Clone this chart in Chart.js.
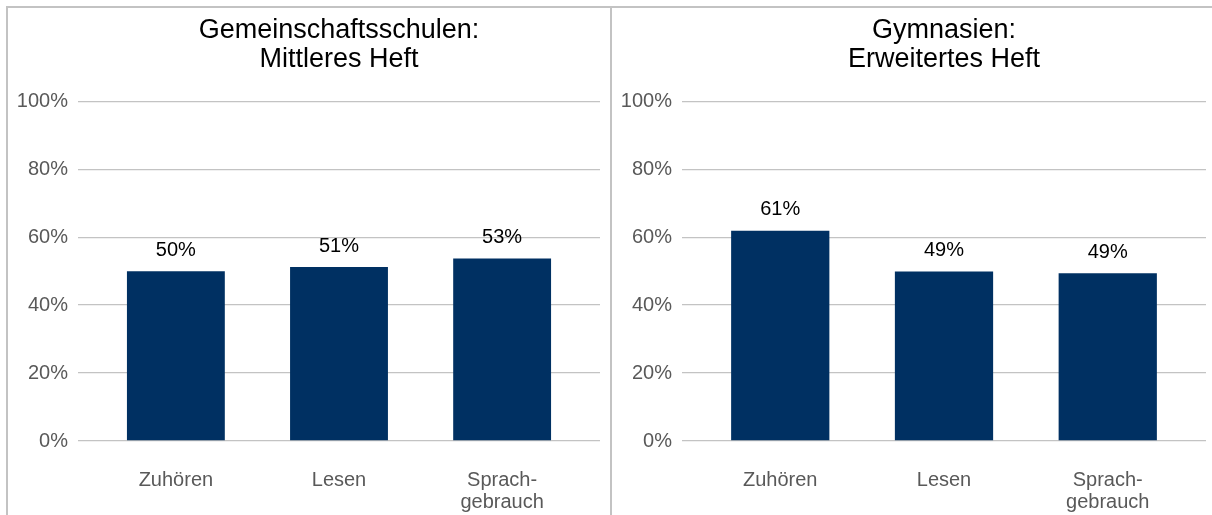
<!DOCTYPE html>
<html>
<head>
<meta charset="utf-8">
<script src="https://cdn.jsdelivr.net/npm/chart.js@4"></script>
<style>
  html, body { margin: 0; padding: 0; background: #fff; }
  body { width: 1212px; height: 515px; position: relative; overflow: hidden; font-family: "Liberation Sans", Arial, sans-serif; }
  #frame { position: absolute; left: 6px; top: 6px; width: 1206px; height: 509px; border-left: 2px solid #c3c3c3; border-top: 2px solid #c3c3c3; box-sizing: border-box; }
  #divider { position: absolute; left: 610px; top: 6px; width: 2px; height: 509px; background: #c3c3c3; }
  .panel { position: absolute; top: 8px; height: 507px; }
  #p1 { left: 8px; width: 602px; }
  #p2 { left: 612px; width: 600px; }
</style>
</head>
<body>
<div id="frame"></div>
<div id="divider"></div>
<div class="panel" id="p1"><canvas id="c1"></canvas></div>
<div class="panel" id="p2"><canvas id="c2"></canvas></div>
<script>
// ---- data ----
const categories = [["Zuhören"], ["Lesen"], ["Sprach-", "gebrauch"]];
const yTicks = [0, 20, 40, 60, 80, 100];
const titleLeft = ["Gemeinschaftsschulen:", "Mittleres Heft"];
const titleRight = ["Gymnasien:", "Erweitertes Heft"];
const valuesLeft = [50.0, 51.2, 53.7];
const valuesRight = [61.9, 49.9, 49.4];
const labelsLeft = ["50%", "51%", "53%"];
const labelsRight = ["61%", "49%", "49%"];

const BAR_COLOR = "#003062";
const FONT = "'Liberation Sans', Arial, sans-serif";

const dataLabelPlugin = {
  id: "dataLabels",
  afterDatasetsDraw(chart, args, opts) {
    const ctx = chart.ctx;
    const meta = chart.getDatasetMeta(0);
    ctx.save();
    ctx.font = "20px " + FONT;
    ctx.fillStyle = "#000000";
    ctx.textAlign = "center";
    ctx.textBaseline = "middle";
    meta.data.forEach((bar, i) => {
      ctx.fillText(opts.labels[i], bar.x, bar.y - 21);
    });
    ctx.restore();
  }
};

function makeChart(id, title, values, labels, rightPad) {
  return new Chart(document.getElementById(id), {
    type: "bar",
    data: {
      datasets: [{
        data: values.map((v, i) => ({ x: i, y: v })),
        backgroundColor: BAR_COLOR,
        borderWidth: 0,
        barPercentage: 0.6,
        categoryPercentage: 1.0
      }]
    },
    options: {
      responsive: true,
      maintainAspectRatio: false,
      animation: false,
      layout: { padding: { top: 0, left: 0, right: rightPad, bottom: 0 } },
      plugins: {
        legend: { display: false },
        tooltip: { enabled: false },
        title: {
          display: true,
          text: title,
          fullSize: false,
          color: "#000000",
          font: { family: FONT, size: 27, weight: "normal", lineHeight: 1.08 },
          padding: { top: 8, bottom: 27 }
        },
        dataLabels: { labels: labels }
      },
      scales: {
        x: {
          type: "linear",
          offset: false,
          min: -0.6,
          max: 2.6,
          afterBuildTicks: (scale) => { scale.ticks = categories.map((c, i) => ({ value: i })); },
          afterFit: (scale) => { scale.height = 74; },
          grid: { display: false, drawTicks: false, offset: false },
          border: { display: false },
          ticks: {
            autoSkip: false,
            maxRotation: 0,
            padding: 28,
            color: "#595959",
            font: { family: FONT, size: 20, lineHeight: 1.1 },
            callback: (v) => categories[v]
          }
        },
        y: {
          min: 0,
          max: 100,
          afterBuildTicks: (scale) => { scale.ticks = yTicks.map(v => ({ value: v })); },
          afterFit: (scale) => { scale.width = 70; },
          grid: { color: "#c3c3c3", lineWidth: 1.3, drawTicks: false },
          border: { display: false },
          ticks: {
            padding: 10,
            color: "#595959",
            font: { family: FONT, size: 20 },
            callback: (v) => v + "%"
          }
        }
      }
    },
    plugins: [dataLabelPlugin]
  });
}

makeChart("c1", titleLeft, valuesLeft, labelsLeft, 10);
makeChart("c2", titleRight, valuesRight, labelsRight, 6);
</script>
</body>
</html>
